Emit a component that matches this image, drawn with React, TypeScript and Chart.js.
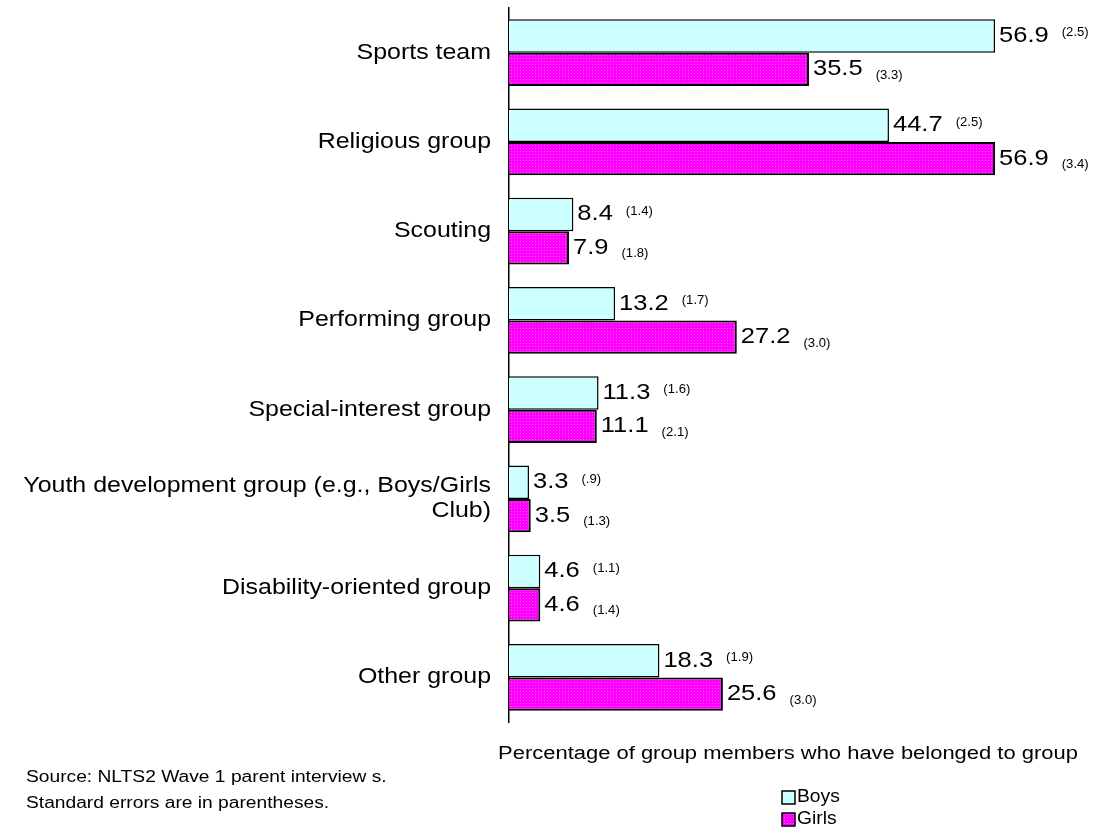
import React, { useEffect, useRef } from "react";
import { Chart, registerables } from "chart.js";

Chart.register(...registerables);

const categories: (string | string[])[] = [
  "Sports team",
  "Religious group",
  "Scouting",
  "Performing group",
  "Special-interest group",
  ["Youth development group (e.g., Boys/Girls", "Club)"],
  "Disability-oriented group",
  "Other group",
];
const boysValues = [56.9, 44.7, 8.4, 13.2, 11.3, 3.3, 4.6, 18.3];
const girlsValues = [35.5, 56.9, 7.9, 27.2, 11.1, 3.5, 4.6, 25.6];
const boysSE = ["(2.5)", "(2.5)", "(1.4)", "(1.7)", "(1.6)", "(.9)", "(1.1)", "(1.9)"];
const girlsSE = ["(3.3)", "(3.4)", "(1.8)", "(3.0)", "(2.1)", "(1.3)", "(1.4)", "(3.0)"];
const seriesNames = ["Boys", "Girls"];
const axisTitle = "Percentage of group members who have belonged to group";
const sourceLines = ["Source: NLTS2 Wave 1 parent interview s.", "Standard errors are in parentheses."];

const FONT = "'Liberation Sans', Arial, sans-serif";
const BOYS_COLOR = "#CCFFFF";
const GIRLS_COLOR = "#FF00FF";
const STRETCH = 1.16;

function makeGirlsPattern(): CanvasPattern | string {
  const c = document.createElement("canvas");
  c.width = 3;
  c.height = 3;
  const g = c.getContext("2d");
  if (!g) return GIRLS_COLOR;
  g.fillStyle = GIRLS_COLOR;
  g.fillRect(0, 0, 3, 3);
  g.fillStyle = "#FF55FF";
  g.fillRect(1, 1, 1, 1);
  const p = g.createPattern(c, "repeat");
  return p || GIRLS_COLOR;
}

function drawText(
  ctx: CanvasRenderingContext2D,
  text: string,
  x: number,
  y: number,
  size: number,
  align: CanvasTextAlign,
  sx: number = STRETCH
): number {
  ctx.save();
  ctx.font = `${size}px ${FONT}`;
  ctx.textAlign = align;
  ctx.textBaseline = "middle";
  ctx.fillStyle = "#000";
  ctx.translate(x, y);
  ctx.scale(sx, 1);
  ctx.fillText(text, 0, 0);
  const w = ctx.measureText(text).width * sx;
  ctx.restore();
  return w;
}

export default function App() {
  const ref = useRef<HTMLCanvasElement | null>(null);

  useEffect(() => {
    if (!ref.current) return;
    const girlsFill = makeGirlsPattern();
    const seLists = [boysSE, girlsSE];

    const labelPlugin = {
      id: "labels",
      afterDatasetsDraw(chart: any) {
        const ctx = chart.ctx;
        chart.data.datasets.forEach((ds: any, di: number) => {
          const meta = chart.getDatasetMeta(di);
          meta.data.forEach((el: any, i: number) => {
            const txt = ds.data[i].toFixed(1);
            const x = el.x + 4;
            const w = drawText(ctx, txt, x, el.y, 22, "left");
            const dy = di === 0 ? -3 : 6;
            drawText(ctx, seLists[di][i], x + w + 13, el.y + dy, 12.5, "left", 1.05);
          });
        });
      },
      afterDraw(chart: any) {
        const ctx = chart.ctx;
        const yScale = chart.scales.y;
        // category labels
        chart.data.labels.forEach((lab: string | string[], i: number) => {
          const cy = yScale.getPixelForTick(i);
          const lines = Array.isArray(lab) ? lab : [lab];
          const lh = 25;
          const start = cy - ((lines.length - 1) * lh) / 2;
          lines.forEach((ln, k) => drawText(ctx, ln, 491, start + k * lh, 21.5, "right"));
        });
        // axis title
        drawText(ctx, axisTitle, 788, 754, 18, "center", 1.22);
        // legend
        const fills = [BOYS_COLOR, girlsFill];
        const ys = [797, 819];
        seriesNames.forEach((n, i) => {
          ctx.save();
          ctx.fillStyle = fills[i];
          ctx.fillRect(782, ys[i] - 6, 13, 13);
          ctx.strokeStyle = "#000";
          ctx.lineWidth = 1.5;
          ctx.strokeRect(782, ys[i] - 6, 13, 13);
          ctx.restore();
          drawText(ctx, n, 797, ys[i], 17.5, "left", 1.1);
        });
        // source
        drawText(ctx, sourceLines[0], 26, 778, 16, "left", 1.2);
        drawText(ctx, sourceLines[1], 26, 804, 16, "left", 1.2);
      },
    };

    const chart = new Chart(ref.current, {
      type: "bar",
      data: {
        labels: categories,
        datasets: [
          {
            label: seriesNames[0],
            data: boysValues,
            backgroundColor: BOYS_COLOR,
            borderColor: "#000",
            borderWidth: 1.5,
            categoryPercentage: 0.75,
            barPercentage: 1,
          },
          {
            label: seriesNames[1],
            data: girlsValues,
            backgroundColor: girlsFill as any,
            borderColor: "#000",
            borderWidth: 2,
            categoryPercentage: 0.75,
            barPercentage: 1,
          },
        ],
      },
      options: {
        indexAxis: "y",
        animation: false,
        responsive: false,
        devicePixelRatio: 1,
        layout: { padding: { top: 8, bottom: 109, right: 80, left: 0 } },
        plugins: {
          legend: { display: false },
          tooltip: { enabled: false },
        },
        scales: {
          x: {
            display: false,
            min: 1,
            max: 60,
          },
          y: {
            grid: { display: false, drawTicks: false },
            border: { display: true, color: "#000", width: 1.5 },
            ticks: { display: false },
            afterFit(scale: any) {
              scale.width = 509;
              scale.paddingTop = 0;
              scale.paddingBottom = 0;
            },
          },
        },
      },
      plugins: [labelPlugin],
    });
    return () => chart.destroy();
  }, []);

  return (
    <div style={{ position: "absolute", left: 0, top: 0, width: 1102, height: 831, background: "#fff" }}>
      <canvas ref={ref} width={1102} height={831} style={{ display: "block" }} />
    </div>
  );
}
